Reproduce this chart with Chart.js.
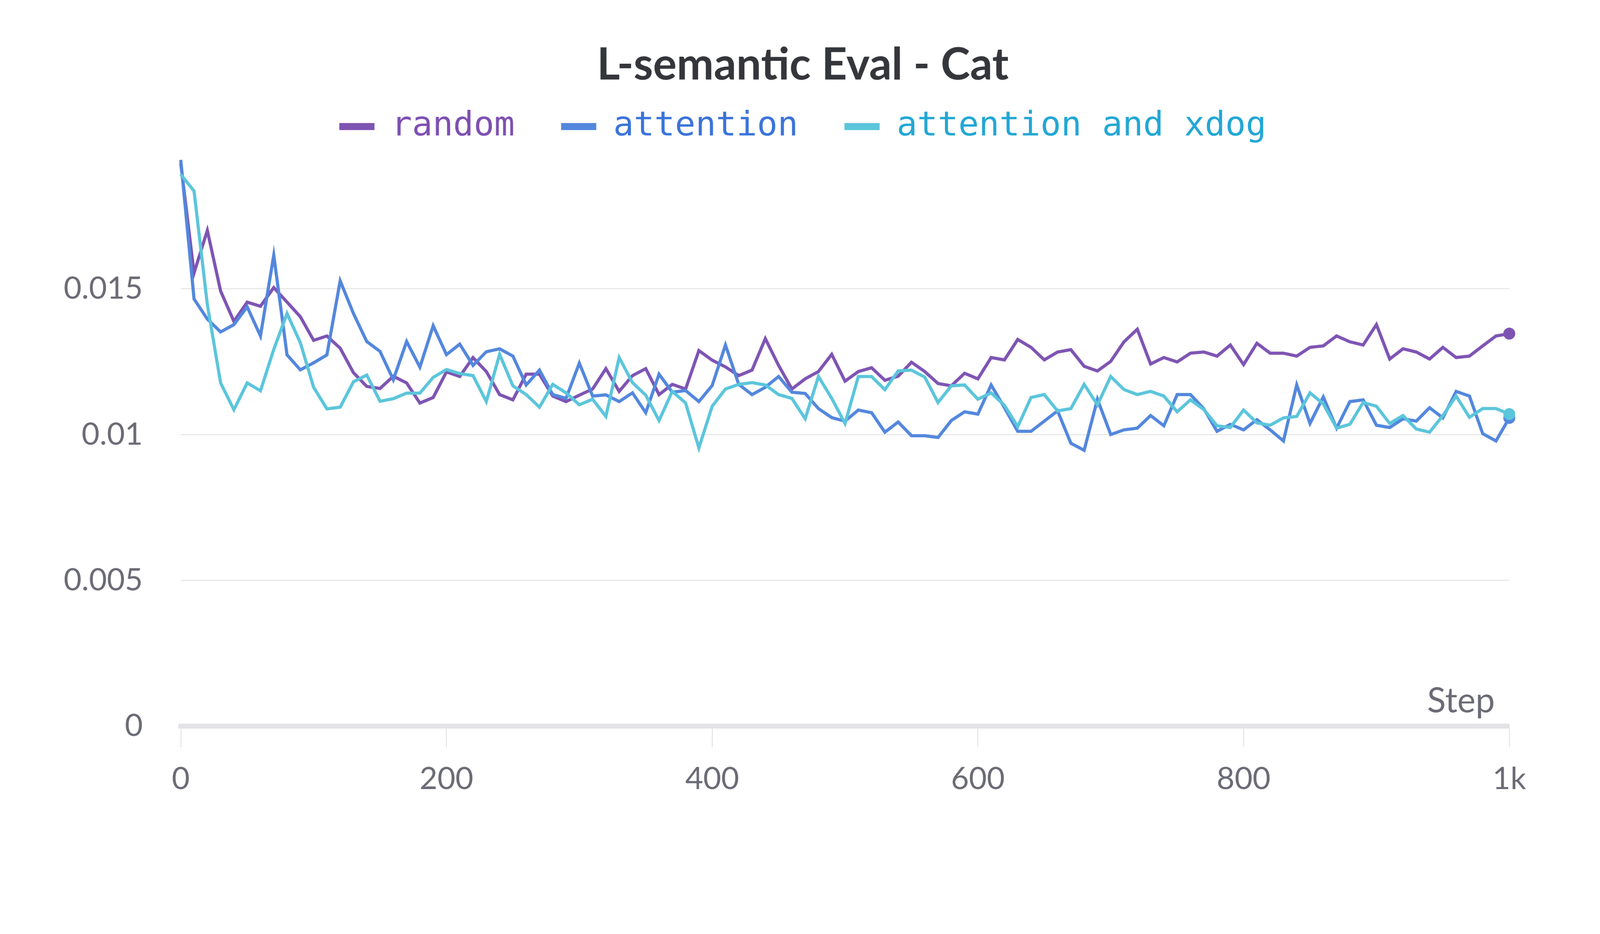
<!DOCTYPE html>
<html>
<head>
<meta charset="utf-8">
<title>L-semantic Eval - Cat</title>
<script src="https://cdn.jsdelivr.net/npm/chart.js@4.4.1/dist/chart.umd.min.js"></script>
<style>
    html, body { margin: 0; padding: 0; background: #ffffff; overflow: hidden; }
    #wrap { width: 4550px; height: 2390px; transform-origin: 0 0; }
</style>
</head>
<body>
<div id="wrap"><canvas id="evalChart" width="4550" height="2390"></canvas></div>
<script>
// Steps logged every 10 steps
const steps = [
    0, 10, 20, 30, 40, 50, 60, 70, 80, 90,
    100, 110, 120, 130, 140, 150, 160, 170, 180, 190,
    200, 210, 220, 230, 240, 250, 260, 270, 280, 290,
    300, 310, 320, 330, 340, 350, 360, 370, 380, 390,
    400, 410, 420, 430, 440, 450, 460, 470, 480, 490,
    500, 510, 520, 530, 540, 550, 560, 570, 580, 590,
    600, 610, 620, 630, 640, 650, 660, 670, 680, 690,
    700, 710, 720, 730, 740, 750, 760, 770, 780, 790,
    800, 810, 820, 830, 840, 850, 860, 870, 880, 890,
    900, 910, 920, 930, 940, 950, 960, 970, 980, 990,
    1000
];

const randomLoss = [
    0.0193, 0.01554, 0.0170, 0.01492, 0.01388, 0.01454, 0.0144, 0.01504, 0.01454, 0.01404,
    0.01323, 0.01338, 0.01296, 0.01212, 0.01165, 0.01158, 0.0120, 0.01177, 0.01108, 0.01127,
    0.01215, 0.01199, 0.01264, 0.01216, 0.01137, 0.01119, 0.01207, 0.01207, 0.01132, 0.01113,
    0.01135, 0.01156, 0.01226, 0.01148, 0.01202, 0.01226, 0.01137, 0.01172, 0.01156, 0.01288,
    0.01255, 0.01232, 0.01202, 0.01221, 0.01329, 0.01237, 0.01156, 0.01191, 0.01216, 0.01275,
    0.01183, 0.01216, 0.01229, 0.01186, 0.0120, 0.01248, 0.01216, 0.01175, 0.01167, 0.0121,
    0.01191, 0.01264, 0.01256, 0.01326, 0.01299, 0.01256, 0.01283, 0.01291, 0.01234, 0.01218,
    0.01251, 0.01318, 0.01361, 0.01242, 0.01264, 0.01249, 0.01279, 0.01283, 0.01269, 0.01307,
    0.0124, 0.01313, 0.01279, 0.01279, 0.01269, 0.01299, 0.01304, 0.01338, 0.01318, 0.01307,
    0.01377, 0.01259, 0.01294, 0.01283, 0.01259, 0.01299, 0.01264, 0.01269, 0.01304, 0.01338,
    0.01346
];

const attentionLoss = [
    0.01942, 0.01465, 0.01396, 0.01352, 0.01377, 0.01438, 0.01338, 0.01615, 0.01273, 0.01222,
    0.01246, 0.01273, 0.01527, 0.01415, 0.01319, 0.01285, 0.01188, 0.01319, 0.01231, 0.01373,
    0.01274, 0.0131, 0.01237, 0.01284, 0.01294, 0.01269, 0.0117, 0.01221, 0.01137, 0.01124,
    0.01245, 0.01132, 0.01136, 0.01113, 0.01143, 0.01075, 0.01207, 0.01145, 0.01151, 0.01113,
    0.01168, 0.01307, 0.01172, 0.01137, 0.01162, 0.01199, 0.01145, 0.01141, 0.01089, 0.01058,
    0.01046, 0.01084, 0.01075, 0.01008, 0.01043, 0.00996, 0.00996, 0.0099, 0.01048, 0.01078,
    0.0107, 0.0117, 0.01092, 0.01011, 0.01011, 0.01046, 0.01081, 0.0097, 0.00946, 0.01121,
    0.0100, 0.01016, 0.01022, 0.01065, 0.0103, 0.01137, 0.01137, 0.01089, 0.01011, 0.01035,
    0.01016, 0.01051, 0.01016, 0.00978, 0.0117, 0.01038, 0.01129, 0.01022, 0.01113, 0.01119,
    0.01032, 0.01024, 0.01054, 0.01046, 0.01092, 0.01057, 0.01148, 0.01132, 0.01003, 0.00978,
    0.01057
];

const xdogLoss = [
    0.01892, 0.01835, 0.01446, 0.01177, 0.01085, 0.01177, 0.0115, 0.01292, 0.01415, 0.01315,
    0.01162, 0.01088, 0.01094, 0.01181, 0.01204, 0.01114, 0.01123, 0.01142, 0.01142, 0.01196,
    0.01223, 0.01209, 0.01202, 0.01113, 0.01275, 0.01167, 0.01137, 0.01094, 0.01172, 0.01143,
    0.01102, 0.01121, 0.01062, 0.01264, 0.01178, 0.01135, 0.01048, 0.01148, 0.01108, 0.00954,
    0.01097, 0.01156, 0.01172, 0.01178, 0.0117, 0.01137, 0.01124, 0.01054, 0.01199, 0.01124,
    0.01038, 0.01199, 0.01199, 0.01154, 0.01218, 0.01221, 0.01197, 0.0111, 0.01167, 0.0117,
    0.01121, 0.01143, 0.011, 0.01027, 0.01127, 0.01137, 0.01081, 0.01089, 0.01172, 0.01102,
    0.01199, 0.01154, 0.01137, 0.01148, 0.01132, 0.01078, 0.01119, 0.01086, 0.0103, 0.01024,
    0.01084, 0.0104, 0.01032, 0.01057, 0.01062, 0.01143, 0.01105, 0.01022, 0.01035, 0.0111,
    0.01097, 0.01038, 0.01065, 0.01019, 0.01008, 0.01065, 0.01132, 0.01059, 0.01089, 0.01089,
    0.0107
];

const seriesNames = ['random', 'attention', 'attention and xdog'];
const yTicks = [0, 0.005, 0.01, 0.015];
const yTickLabels = ['0', '0.005', '0.01', '0.015'];
const xTicks = [0, 200, 400, 600, 800, 1000];
const xTickLabels = ['0', '200', '400', '600', '800', '1k'];

const lineColors = ['#7e54b3', '#5387dd', '#5bc5db'];
const textColors = ['#7d4fb1', '#3b73d9', '#22a7d4'];
const tickColor = '#6b6b76';
const lastIndex = steps.length - 1;

// fit the fixed 4550x2390 drawing into whatever the viewport is in css pixels
const fitScale = Math.min(window.innerWidth / 4550, window.innerHeight / 2390);
document.getElementById('wrap').style.transform = 'scale(' + fitScale + ')';

// "Step" caption sitting above the x axis, right aligned
const stepCaption = {
    id: 'stepCaption',
    afterDraw(chart) {
        const ctx = chart.ctx;
        const area = chart.chartArea;
        ctx.save();
        ctx.font = '98px Lato';
        ctx.fillStyle = tickColor;
        ctx.textAlign = 'right';
        ctx.textBaseline = 'alphabetic';
        ctx.fillText('Step', area.right - 41, area.bottom - 39);
        ctx.restore();
    }
};

function makeDataset(i, values, order) {
    return {
        label: seriesNames[i],
        data: values,
        borderColor: lineColors[i],
        backgroundColor: lineColors[i],
        borderWidth: 9,
        tension: 0,
        fill: false,
        order: order,
        clip: false,
        pointRadius: c => c.dataIndex === lastIndex ? 17 : 0,
        pointHoverRadius: 0,
        pointBorderWidth: 0,
        pointBackgroundColor: lineColors[i]
    };
}

const chart = new Chart(document.getElementById('evalChart'), {
    type: 'line',
    data: {
        labels: steps,
        datasets: [
            makeDataset(0, randomLoss, 2),
            makeDataset(1, attentionLoss, 1),
            makeDataset(2, xdogLoss, 0)
        ]
    },
    options: {
        responsive: false,
        devicePixelRatio: 1,
        animation: false,
        events: [],
        layout: { padding: { left: 16, right: 0, top: 0, bottom: 0 } },
        plugins: {
            tooltip: { enabled: false },
            title: {
                display: true,
                text: 'L-semantic Eval - Cat',
                color: '#35363b',
                font: { family: 'Lato', size: 126, weight: 'bold' },
                padding: { top: 110, bottom: 35 }
            },
            legend: {
                display: true,
                position: 'top',
                labels: {
                    font: { family: 'DejaVu Sans Mono', size: 97 },
                    boxWidth: 100,
                    boxHeight: 20,
                    padding: 15,
                    useBorderRadius: true,
                    borderRadius: 5,
                    generateLabels: c => c.data.datasets.map((ds, i) => ({
                        text: ds.label + (i < 2 ? '  ' : ''),
                        fillStyle: ds.borderColor,
                        strokeStyle: ds.borderColor,
                        lineWidth: 0,
                        fontColor: textColors[i],
                        hidden: false,
                        datasetIndex: i
                    }))
                }
            }
        },
        scales: {
            x: {
                type: 'linear',
                min: 0,
                max: 1000,
                afterBuildTicks: s => { s.ticks = xTicks.map(v => ({ value: v })); },
                afterFit: s => { s.height = 326; },
                grid: {
                    drawOnChartArea: false,
                    drawTicks: true,
                    tickLength: 60,
                    tickWidth: 3,
                    tickColor: '#e6e6e6',
                    color: '#e6e6e6'
                },
                border: { display: true, width: 14, color: '#e4e4e6' },
                ticks: {
                    font: { family: 'Lato', size: 88 },
                    color: tickColor,
                    padding: 38,
                    maxRotation: 0,
                    autoSkip: false,
                    callback: (v, i) => xTickLabels[i]
                }
            },
            y: {
                type: 'linear',
                min: 0,
                max: 0.0194,
                afterBuildTicks: s => { s.ticks = yTicks.map(v => ({ value: v })); },
                afterFit: s => { s.width = 498; },
                grid: {
                    drawTicks: false,
                    lineWidth: 3,
                    color: c => (c.tick && c.tick.value === 0) ? 'rgba(0,0,0,0)' : '#e6e6e6'
                },
                border: { display: false },
                ticks: {
                    font: { family: 'Lato', size: 88 },
                    color: tickColor,
                    padding: 108,
                    callback: (v, i) => yTickLabels[i]
                }
            },
            // empty spacer axes so the plot area lines up with the reference
            ySpacer: {
                type: 'linear',
                axis: 'y',
                position: 'right',
                grid: { display: false },
                border: { display: false },
                ticks: { display: false },
                afterFit: s => { s.width = 258; }
            },
            xSpacer: {
                type: 'linear',
                axis: 'x',
                position: 'top',
                grid: { display: false },
                border: { display: false },
                ticks: { display: false },
                afterFit: s => {
                    const c = s.chart;
                    const used = (c.titleBlock ? c.titleBlock.height : 0) + (c.legend ? c.legend.height : 0);
                    s.height = Math.max(0, 456 - used);
                }
            }
        }
    },
    plugins: [stepCaption]
});
</script>
</body>
</html>
